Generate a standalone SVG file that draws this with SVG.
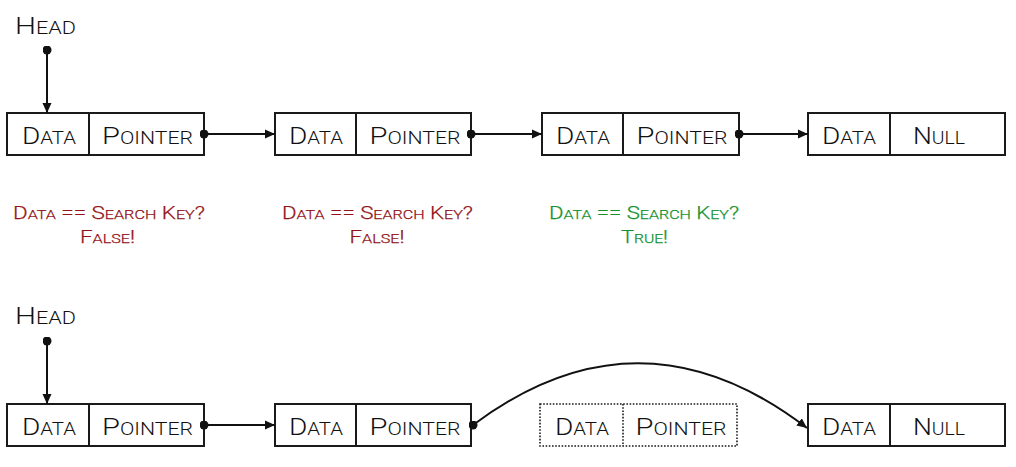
<svg xmlns="http://www.w3.org/2000/svg" width="1016" height="467" viewBox="0 0 1016 467">
<style>
.box{fill:#fff;stroke:#1a1a1a;stroke-width:2}
.dbox{fill:#fff;stroke:#1a1a1a;stroke-width:1.6;stroke-dasharray:1.6 1.6}
.div{stroke:#1a1a1a;stroke-width:2}
.ddiv{stroke:#1a1a1a;stroke-width:1.6;stroke-dasharray:1.6 1.6}
.t{font-family:Roboto,"Liberation Sans",sans-serif;font-weight:300;font-size:24px;fill:#111;text-anchor:middle}
.s{font-size:17.5px}
.q{font-family:Roboto,"Liberation Sans",sans-serif;font-weight:300;font-size:18px;text-anchor:middle;stroke-width:0.25px}
.qs{font-size:13px}
.red{fill:#931217;stroke:#931217}
.green{fill:#12922f;stroke:#12922f}
.c{stroke:#111;stroke-width:2;fill:none}
</style>
<defs>
<marker id="arr" viewBox="0 0 10 10" refX="10" refY="5" markerWidth="10" markerHeight="10" markerUnits="userSpaceOnUse" orient="auto">
<path d="M0,0.5 L10,5 L0,9.5 Z" fill="#111"/>
</marker>
<marker id="dot" viewBox="0 0 10 10" refX="5" refY="5" markerWidth="9" markerHeight="9" markerUnits="userSpaceOnUse">
<circle cx="5" cy="5" r="5" fill="#111"/>
</marker>
</defs>

<g id="head1"><text class="t" x="45.5" y="34" textLength="61" lengthAdjust="spacingAndGlyphs">H<tspan class="s">EAD</tspan></text></g>
<g id="n1">
<rect class="box" x="7" y="113" width="197" height="42"/>
<line class="div" x1="89" y1="113" x2="89" y2="155"/>
<text class="t" x="49" y="144" textLength="54" lengthAdjust="spacingAndGlyphs">D<tspan class="s">ATA</tspan></text>
<text class="t" x="147.5" y="144" textLength="91" lengthAdjust="spacingAndGlyphs">P<tspan class="s">OINTER</tspan></text>
</g>
<g id="n2">
<rect class="box" x="275" y="113" width="196" height="42"/>
<line class="div" x1="356" y1="113" x2="356" y2="155"/>
<text class="t" x="316" y="144" textLength="54" lengthAdjust="spacingAndGlyphs">D<tspan class="s">ATA</tspan></text>
<text class="t" x="415" y="144" textLength="91" lengthAdjust="spacingAndGlyphs">P<tspan class="s">OINTER</tspan></text>
</g>
<g id="n3">
<rect class="box" x="542" y="113" width="197" height="42"/>
<line class="div" x1="623" y1="113" x2="623" y2="155"/>
<text class="t" x="583" y="144" textLength="54" lengthAdjust="spacingAndGlyphs">D<tspan class="s">ATA</tspan></text>
<text class="t" x="682" y="144" textLength="91" lengthAdjust="spacingAndGlyphs">P<tspan class="s">OINTER</tspan></text>
</g>
<g id="n4">
<rect class="box" x="808" y="113" width="197" height="42"/>
<line class="div" x1="890" y1="113" x2="890" y2="155"/>
<text class="t" x="849" y="144" textLength="54" lengthAdjust="spacingAndGlyphs">D<tspan class="s">ATA</tspan></text>
<text class="t" x="939" y="144" textLength="52" lengthAdjust="spacingAndGlyphs">N<tspan class="s">ULL</tspan></text>
</g>

<g id="check1">
<text class="q red" x="109" y="219" textLength="192" lengthAdjust="spacingAndGlyphs">D<tspan class="qs">ATA</tspan> == S<tspan class="qs">EARCH</tspan> K<tspan class="qs">EY</tspan>?</text>
<text class="q red" x="107.5" y="243" textLength="55" lengthAdjust="spacingAndGlyphs">F<tspan class="qs">ALSE</tspan>!</text>
</g>
<g id="check2">
<text class="q red" x="377.5" y="219" textLength="191" lengthAdjust="spacingAndGlyphs">D<tspan class="qs">ATA</tspan> == S<tspan class="qs">EARCH</tspan> K<tspan class="qs">EY</tspan>?</text>
<text class="q red" x="377" y="243" textLength="55" lengthAdjust="spacingAndGlyphs">F<tspan class="qs">ALSE</tspan>!</text>
</g>
<g id="check3">
<text class="q green" x="644" y="219" textLength="190" lengthAdjust="spacingAndGlyphs">D<tspan class="qs">ATA</tspan> == S<tspan class="qs">EARCH</tspan> K<tspan class="qs">EY</tspan>?</text>
<text class="q green" x="644.5" y="243" textLength="47" lengthAdjust="spacingAndGlyphs">T<tspan class="qs">RUE</tspan>!</text>
</g>

<g id="head2"><text class="t" x="45.5" y="324" textLength="61" lengthAdjust="spacingAndGlyphs">H<tspan class="s">EAD</tspan></text></g>
<g id="m1">
<rect class="box" x="7" y="404" width="197" height="42"/>
<line class="div" x1="89" y1="404" x2="89" y2="446"/>
<text class="t" x="49" y="435" textLength="54" lengthAdjust="spacingAndGlyphs">D<tspan class="s">ATA</tspan></text>
<text class="t" x="147.5" y="435" textLength="91" lengthAdjust="spacingAndGlyphs">P<tspan class="s">OINTER</tspan></text>
</g>
<g id="m2">
<rect class="box" x="275" y="404" width="196" height="42"/>
<line class="div" x1="356" y1="404" x2="356" y2="446"/>
<text class="t" x="316" y="435" textLength="54" lengthAdjust="spacingAndGlyphs">D<tspan class="s">ATA</tspan></text>
<text class="t" x="415" y="435" textLength="91" lengthAdjust="spacingAndGlyphs">P<tspan class="s">OINTER</tspan></text>
</g>
<g id="m3">
<rect class="dbox" x="540" y="404" width="197" height="42"/>
<line class="ddiv" x1="623" y1="404" x2="623" y2="446"/>
<text class="t" x="582" y="435" textLength="54" lengthAdjust="spacingAndGlyphs">D<tspan class="s">ATA</tspan></text>
<text class="t" x="681" y="435" textLength="91" lengthAdjust="spacingAndGlyphs">P<tspan class="s">OINTER</tspan></text>
</g>
<g id="m4">
<rect class="box" x="808" y="404" width="197" height="42"/>
<line class="div" x1="890" y1="404" x2="890" y2="446"/>
<text class="t" x="849" y="435" textLength="54" lengthAdjust="spacingAndGlyphs">D<tspan class="s">ATA</tspan></text>
<text class="t" x="939" y="435" textLength="52" lengthAdjust="spacingAndGlyphs">N<tspan class="s">ULL</tspan></text>
</g>

<g id="connectors">
<line class="c" x1="47" y1="50" x2="47" y2="113" marker-start="url(#dot)" marker-end="url(#arr)"/>
<line class="c" x1="204" y1="134" x2="275" y2="134" marker-start="url(#dot)" marker-end="url(#arr)"/>
<line class="c" x1="471" y1="134" x2="542" y2="134" marker-start="url(#dot)" marker-end="url(#arr)"/>
<line class="c" x1="739" y1="134" x2="808" y2="134" marker-start="url(#dot)" marker-end="url(#arr)"/>
<line class="c" x1="47" y1="341" x2="47" y2="404" marker-start="url(#dot)" marker-end="url(#arr)"/>
<line class="c" x1="204" y1="425" x2="275" y2="425" marker-start="url(#dot)" marker-end="url(#arr)"/>
<path class="c" d="M473,425 Q640,300 807,428" marker-start="url(#dot)" marker-end="url(#arr)"/>
</g>
</svg>
